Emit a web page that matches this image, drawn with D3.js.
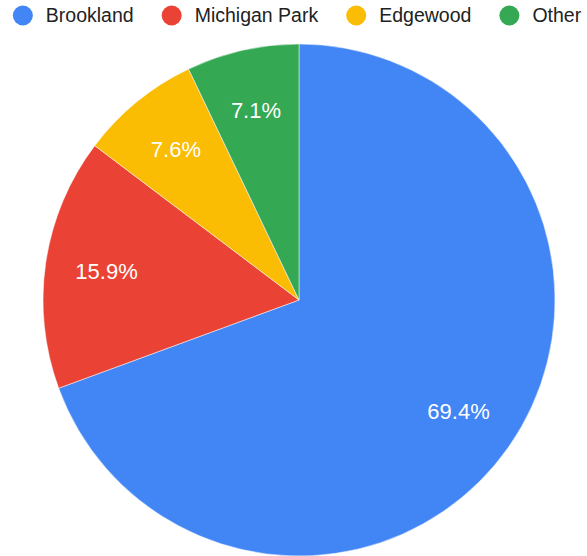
<!DOCTYPE html>
<html>
<head>
<meta charset="utf-8">
<script src="https://cdn.jsdelivr.net/npm/d3@7"></script>
<style>
  html, body { margin: 0; padding: 0; background: #fff; }
  svg { display: block; font-family: "Liberation Sans", Arial, Helvetica, sans-serif; }
</style>
</head>
<body>
<svg id="chart" width="587" height="556"></svg>
<script>
// Share of records by neighborhood (percent)
const categories = ["Brookland", "Michigan Park", "Edgewood", "Other"];
const shares = [69.4, 15.9, 7.6, 7.1];
const colors = ["#4285F4", "#EA4335", "#FBBC04", "#34A853"];

const width = 587, height = 556;
const svg = d3.select("#chart");

const data = categories.map((c, i) => ({ name: c, value: shares[i], color: colors[i] }));

// ---- Legend across the top ----
const legend = svg.append("g").attr("class", "legend");
const legendY = 15.5, dotR = 10, dotToText = 13, itemGap = 28;
const items = legend.selectAll("g").data(data).join("g");
items.append("circle").attr("r", dotR).attr("cy", legendY).attr("fill", d => d.color);
items.append("text")
  .attr("y", legendY)
  .attr("dy", "0.35em")
  .attr("font-size", 19.5)
  .attr("fill", "#222")
  .text(d => d.name);

let x = 0;
const offsets = [];
items.each(function () {
  const tw = d3.select(this).select("text").node().getComputedTextLength();
  offsets.push(x);
  x += 2 * dotR + dotToText + tw + itemGap;
});
const totalW = x - itemGap;
const startX = 297 - totalW / 2;
items.each(function (d, i) {
  const g = d3.select(this);
  const cx = startX + offsets[i] + dotR;
  g.select("circle").attr("cx", cx);
  g.select("text").attr("x", cx + dotR + dotToText);
});

// ---- Pie ----
const cx = 299, cy = 300, radius = 256;
const pie = d3.pie().sort(null).value(d => d.value);
const arc = d3.arc().innerRadius(0).outerRadius(radius);
const labelArc = d3.arc().innerRadius(radius * 0.76).outerRadius(radius * 0.76);

const g = svg.append("g").attr("transform", `translate(${cx},${cy})`);
const arcs = pie(data);

g.selectAll("path")
  .data(arcs)
  .join("path")
  .attr("d", arc)
  .attr("fill", d => d.data.color)
  .attr("stroke", "#fff")
  .attr("stroke-width", 0.5);

g.selectAll("text")
  .data(arcs)
  .join("text")
  .attr("transform", d => `translate(${labelArc.centroid(d)})`)
  .attr("text-anchor", "middle")
  .attr("dy", "0.35em")
  .attr("font-size", 22)
  .attr("fill", "#fff")
  .text(d => d.data.value.toFixed(1) + "%");
</script>
</body>
</html>
